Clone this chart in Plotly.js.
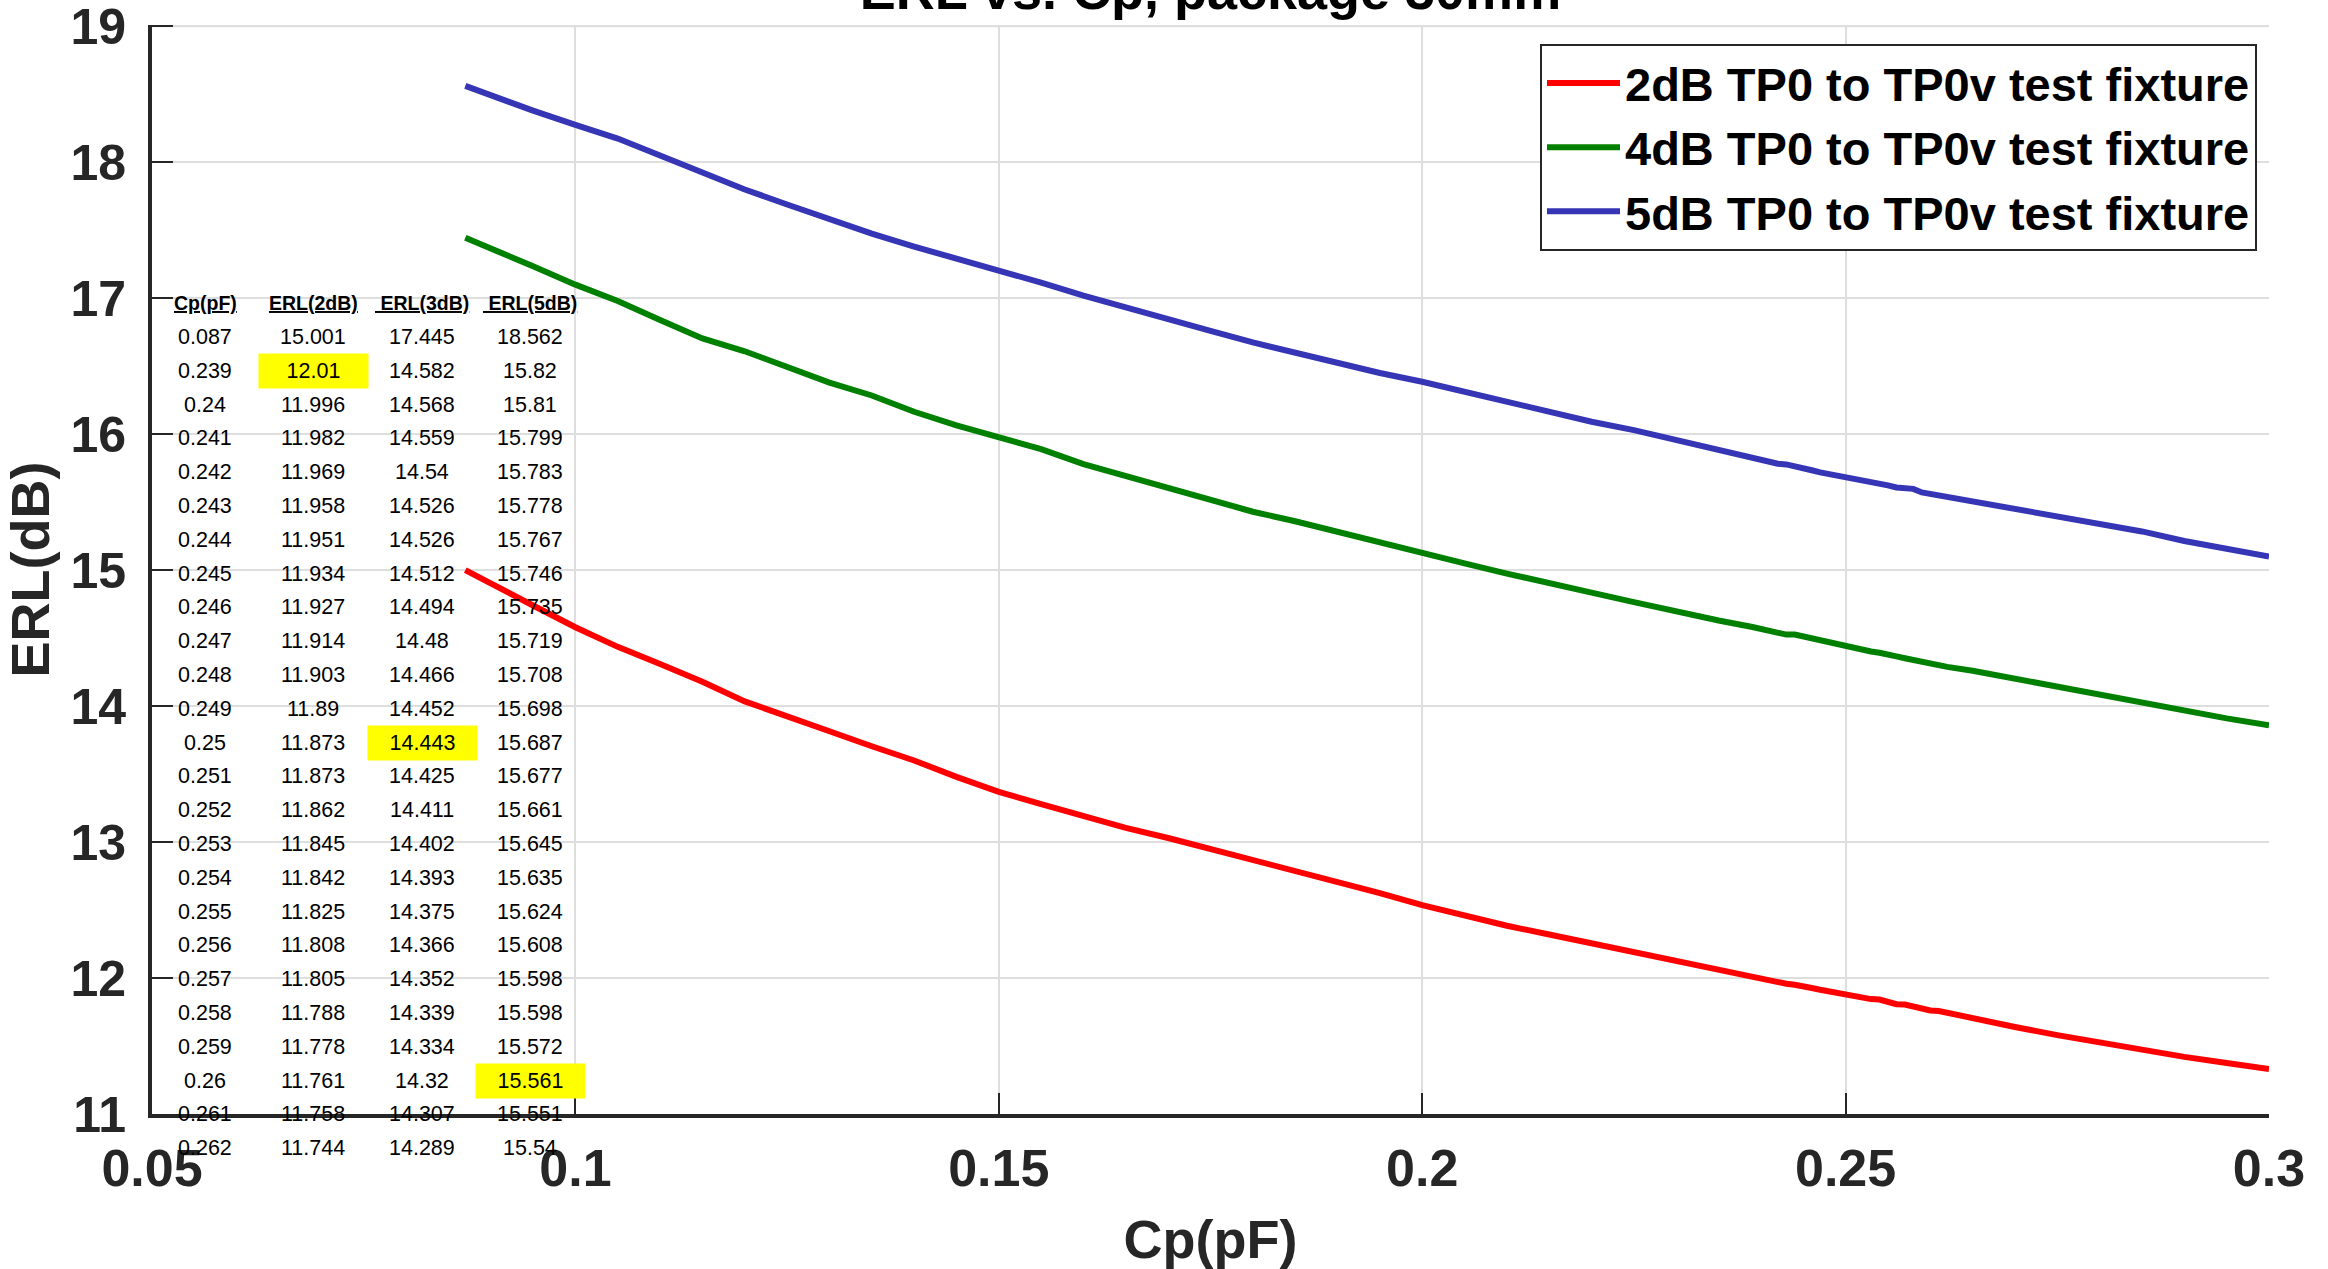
<!DOCTYPE html>
<html>
<head>
<meta charset="utf-8">
<script src="https://cdn.plot.ly/plotly-3.0.1.min.js"></script>
<style>
  html, body { margin: 0; padding: 0; background: #ffffff; }
  #chart { width: 2328px; height: 1269px; }
</style>
</head>
<body>
<div id="chart"></div>
<script>
// ---- Tabulated operating points (Cp in pF, ERL in dB) ----
const cpTable = [0.087, 0.239, 0.24, 0.241, 0.242, 0.243, 0.244, 0.245, 0.246, 0.247, 0.248, 0.249,
                 0.25, 0.251, 0.252, 0.253, 0.254, 0.255, 0.256, 0.257, 0.258, 0.259, 0.26, 0.261, 0.262];
const erl2Table = [15.001, 12.01, 11.996, 11.982, 11.969, 11.958, 11.951, 11.934, 11.927, 11.914, 11.903, 11.89,
                   11.873, 11.873, 11.862, 11.845, 11.842, 11.825, 11.808, 11.805, 11.788, 11.778, 11.761, 11.758, 11.744];
const erl3Table = [17.445, 14.582, 14.568, 14.559, 14.54, 14.526, 14.526, 14.512, 14.494, 14.48, 14.466, 14.452,
                   14.443, 14.425, 14.411, 14.402, 14.393, 14.375, 14.366, 14.352, 14.339, 14.334, 14.32, 14.307, 14.289];
const erl5Table = [18.562, 15.82, 15.81, 15.799, 15.783, 15.778, 15.767, 15.746, 15.735, 15.719, 15.708, 15.698,
                   15.687, 15.677, 15.661, 15.645, 15.635, 15.624, 15.608, 15.598, 15.598, 15.572, 15.561, 15.551, 15.54];
const tableHeaders = ['Cp(pF)', 'ERL(2dB)', ' ERL(3dB)', ' ERL(5dB)'];

// ---- Sweep samples below and above the tabulated range ----
const cpLow = [0.09, 0.095, 0.1, 0.105, 0.11, 0.115, 0.12, 0.125, 0.13, 0.135, 0.14, 0.145, 0.15, 0.155, 0.16,
               0.165, 0.17, 0.175, 0.18, 0.185, 0.19, 0.195, 0.2, 0.205, 0.21, 0.215, 0.22, 0.225, 0.23, 0.235];
const erl2Low = [14.90, 14.74, 14.58, 14.436, 14.31, 14.18, 14.035, 13.92, 13.815, 13.705, 13.60, 13.48, 13.37, 13.28, 13.19,
                 13.105, 13.03, 12.95, 12.87, 12.79, 12.71, 12.625, 12.536, 12.455, 12.385, 12.32, 12.255, 12.19, 12.12, 12.055];
const erl4Low = [17.37, 17.235, 17.10, 16.98, 16.84, 16.705, 16.61, 16.49, 16.38, 16.285, 16.165, 16.065, 15.982, 15.89, 15.78,
                 15.69, 15.60, 15.51, 15.43, 15.36, 15.28, 15.20, 15.124, 15.05, 14.975, 14.90, 14.835, 14.765, 14.695, 14.63];
const erl5Low = [18.49, 18.38, 18.275, 18.175, 18.05, 17.92, 17.80, 17.69, 17.58, 17.475, 17.38, 17.295, 17.208, 17.115, 17.02,
                 16.93, 16.845, 16.76, 16.675, 16.597, 16.52, 16.45, 16.386, 16.31, 16.24, 16.165, 16.092, 16.03, 15.955, 15.88];

const cpHigh = [0.265, 0.27, 0.275, 0.28, 0.285, 0.29, 0.295, 0.3];
const erl2High = [11.70, 11.64, 11.58, 11.525, 11.47, 11.42, 11.375, 11.33];
const erl4High = [14.26, 14.20, 14.14, 14.085, 14.025, 13.962, 13.91, 13.86];
const erl5High = [15.505, 15.455, 15.395, 15.345, 15.285, 15.215, 15.155, 15.10];

// ---- Axis ticks ----
const xTicks = [0.05, 0.1, 0.15, 0.2, 0.25, 0.3];
const yTicks = [11, 12, 13, 14, 15, 16, 17, 18, 19];

const seriesNames = ['2dB TP0 to TP0v test fixture', '4dB TP0 to TP0v test fixture', '5dB TP0 to TP0v test fixture'];
const seriesColors = ['#ff0000', '#008000', '#3535b5'];

// Full sweep: first tabulated point, low samples, tabulated block, high samples
function sweep(table, low, high) {
  return [table[0], ...low, ...table.slice(1), ...high];
}
const cpSweep = sweep(cpTable, cpLow, cpHigh);
const erlSweeps = [
  sweep(erl2Table, erl2Low, erl2High),
  sweep(erl3Table, erl4Low, erl4High),
  sweep(erl5Table, erl5Low, erl5High)
];

const traces = erlSweeps.map((ys, i) => ({
  type: 'scatter',
  mode: 'lines',
  name: seriesNames[i],
  x: cpSweep,
  y: ys,
  line: { color: seriesColors[i], width: 6 },
  hoverinfo: 'skip'
}));

// ---- Page geometry ----
const W = 2328, H = 1269;
const M = { l: 152, r: 59, t: 25, b: 155 };
const plotW = W - M.l - M.r, plotH = H - M.t - M.b;
const paperX = px => (px - M.l) / plotW;
const paperY = py => (H - M.b - py) / plotH;

const FONT = 'Liberation Sans, Arial, sans-serif';
const AXIS_COLOR = '#262626';
const GRID_COLOR = '#dedede';

// ---- Table overlay ----
const colCenters = [205, 313, 422, 530];
const headerY = 303, firstRowY = 337, rowStep = 33.8;
const highlights = [
  { row: 1, col: 1 },
  { row: 12, col: 2 },
  { row: 22, col: 3 }
];
const tableCols = [cpTable, erl2Table, erl3Table, erl5Table];

const annotations = [];
tableHeaders.forEach((h, c) => {
  annotations.push({
    xref: 'paper', yref: 'paper', x: paperX(colCenters[c]), y: paperY(headerY),
    xanchor: 'center', yanchor: 'middle', showarrow: false, text: h,
    font: { family: FONT, size: 19.5, color: '#000', weight: 'bold', lineposition: 'under' }
  });
});
tableCols.forEach((col, c) => {
  col.forEach((v, r) => {
    const hl = highlights.some(h => h.row === r && h.col === c);
    const a = {
      xref: 'paper', yref: 'paper', x: paperX(colCenters[c]), y: paperY(firstRowY + r * rowStep),
      xanchor: 'center', yanchor: 'middle', showarrow: false, text: String(v),
      font: { family: FONT, size: 21.5, color: '#000' }
    };
    if (hl) {
      a.bgcolor = '#ffff00';
      a.width = 109;
      a.height = 34;
      a.borderpad = 0;
    }
    annotations.push(a);
  });
});

const yMax = yTicks[yTicks.length - 1];

const layout = {
  width: W, height: H,
  margin: M,
  paper_bgcolor: '#ffffff',
  plot_bgcolor: '#ffffff',
  showlegend: true,
  title: {
    text: 'ERL vs. Cp, package 30mm',
    font: { family: FONT, size: 54, color: '#000', weight: 'bold' },
    x: 0.5, xref: 'paper', xanchor: 'center',
    y: 1 - 9 / H, yref: 'container', yanchor: 'bottom'
  },
  xaxis: {
    range: [0.05, 0.3], tickmode: 'array', tickvals: xTicks, ticktext: xTicks.map(String),
    ticks: 'inside', ticklen: 21, tickwidth: 2, tickcolor: AXIS_COLOR,
    showline: true, linecolor: AXIS_COLOR, linewidth: 4,
    showgrid: true, gridcolor: GRID_COLOR, gridwidth: 2, zeroline: false,
    tickfont: { family: FONT, size: 52, color: AXIS_COLOR, weight: 'bold' },
    ticklabelstandoff: 6, ticklabeloverflow: 'allow',
    title: { text: 'Cp(pF)', font: { family: FONT, size: 54, color: AXIS_COLOR, weight: 'bold' }, standoff: 38 }
  },
  yaxis: {
    // a hair of headroom keeps the top tick from being culled at the plot edge
    range: [11, 19.01], tickmode: 'array', tickvals: yTicks, ticktext: yTicks.map(String),
    ticks: 'inside', ticklen: 21, tickwidth: 2, tickcolor: AXIS_COLOR,
    showline: true, linecolor: AXIS_COLOR, linewidth: 4,
    showgrid: true, gridcolor: GRID_COLOR, gridwidth: 2, zeroline: false,
    tickfont: { family: FONT, size: 50, color: AXIS_COLOR, weight: 'bold' },
    ticklabelstandoff: 12, ticklabeloverflow: 'allow',
    title: { text: 'ERL(dB)', font: { family: FONT, size: 54, color: AXIS_COLOR, weight: 'bold' }, standoff: 8 }
  },
  // grid line along the top tick
  shapes: [{
    type: 'line', layer: 'below', xref: 'paper', yref: 'y',
    x0: 0, x1: 1, y0: yMax, y1: yMax,
    line: { color: GRID_COLOR, width: 2 }
  }],
  legend: {
    x: paperX(2257), xanchor: 'right',
    y: paperY(44), yanchor: 'top',
    bgcolor: '#ffffff', bordercolor: AXIS_COLOR, borderwidth: 2,
    font: { family: FONT, size: 47, color: '#000', weight: 'bold' },
    itemwidth: 73, tracegroupgap: 0
  },
  annotations: annotations
};

Plotly.newPlot('chart', traces, layout, { displayModeBar: false, staticPlot: true });
</script>
</body>
</html>
